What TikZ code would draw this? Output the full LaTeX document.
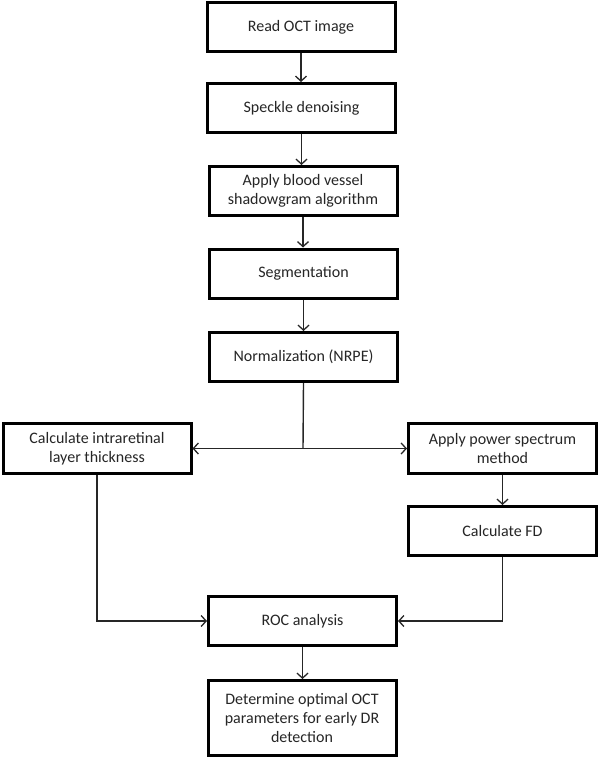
\documentclass[tikz,border=0pt]{standalone}
\usepackage{fontspec}
\setmainfont{Carlito}
\usetikzlibrary{arrows.meta}
\begin{document}
\begin{tikzpicture}[x=1pt,y=-1pt,
  box/.style={draw=black, line width=3pt, fill=white, minimum width=188pt, minimum height=49pt,
    align=center, inner sep=2pt, font=\fontsize{16}{19}\selectfont, text=black!85},
  conn/.style={line width=1.4pt, draw=black!85},
  arr/.style={conn, -{Straight Barb[length=5pt,width=11pt,line width=1.3pt]}}]
\useasboundingbox (0,0) rectangle (600,760);
\node[box] (n1) at (301,27.5) {Read OCT image};
\node[box] (n2) at (301.5,108) {Speckle denoising};
\node[box] (n3) at (303,191) {Apply blood vessel\\shadowgram algorithm};
\node[box] (n4) at (303.5,273.5) {Segmentation};
\node[box] (n5) at (303.5,357) {Normalization (NRPE)};
\node[box, minimum height=50pt] (n6) at (97,448.5) {Calculate intraretinal\\layer thickness};
\node[box, minimum height=50pt] (n7) at (502.5,448.5) {Apply power spectrum\\method};
\node[box] (n8) at (502.5,531) {Calculate FD};
\node[box] (n9) at (302.5,621) {ROC analysis};
\node[box, minimum height=75pt] (n10) at (302,718) {Determine optimal OCT\\parameters for early DR\\detection};
\coordinate (j) at (303,448.5);
\draw[arr] (n1.south) -- (n1.south |- n2.north);
\draw[arr] (n2.south) -- (n2.south |- n3.north);
\draw[arr] (n3.south) -- (n3.south |- n4.north);
\draw[arr] (n4.south) -- (n4.south |- n5.north);
\draw[conn] (n5.south) -- (j);
\draw[arr] (j) -- (n6.east);
\draw[arr] (j) -- (n7.west);
\draw[arr] (n7.south) -- (n7.south |- n8.north);
\draw[arr] (n6.south) |- (n9.west);
\draw[arr] (n8.south) |- (n9.east);
\draw[arr] (n9.south) -- (n9.south |- n10.north);
\end{tikzpicture}
\end{document}
